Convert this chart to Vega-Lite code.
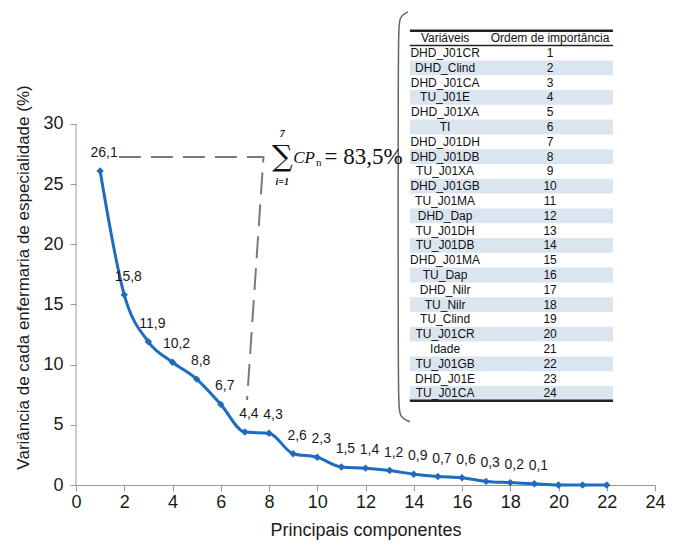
{
  "$schema": "https://vega.github.io/schema/vega-lite/v6.json",
  "width": 579,
  "height": 475,
  "autosize": {"type": "none"},
  "padding": {"left": 76, "top": 10, "right": 25, "bottom": 60},
  "config": {
    "view": {"stroke": null},
    "font": "Liberation Sans",
    "axisX": {"labelOverlap": false, "labelFlush": false, "labelSeparation": -12},
    "locale": {"number": {"decimal": ",", "thousands": ".", "grouping": [3], "currency": ["", ""]}}
  },
  "datasets": {
    "pcs": [
      {"pc": 1, "var": 26.1}, {"pc": 2, "var": 15.8}, {"pc": 3, "var": 11.9}, {"pc": 4, "var": 10.2},
      {"pc": 5, "var": 8.8}, {"pc": 6, "var": 6.7}, {"pc": 7, "var": 4.4}, {"pc": 8, "var": 4.3},
      {"pc": 9, "var": 2.6}, {"pc": 10, "var": 2.3}, {"pc": 11, "var": 1.5}, {"pc": 12, "var": 1.4},
      {"pc": 13, "var": 1.2}, {"pc": 14, "var": 0.9}, {"pc": 15, "var": 0.7}, {"pc": 16, "var": 0.6},
      {"pc": 17, "var": 0.3}, {"pc": 18, "var": 0.2}, {"pc": 19, "var": 0.1}, {"pc": 20, "var": 0.0},
      {"pc": 21, "var": 0.0}, {"pc": 22, "var": 0.0}
    ],
    "tabela": [
      {"ordem": 1, "var": "DHD_J01CR"}, {"ordem": 2, "var": "DHD_Clind"}, {"ordem": 3, "var": "DHD_J01CA"},
      {"ordem": 4, "var": "TU_J01E"}, {"ordem": 5, "var": "DHD_J01XA"}, {"ordem": 6, "var": "TI"},
      {"ordem": 7, "var": "DHD_J01DH"}, {"ordem": 8, "var": "DHD_J01DB"}, {"ordem": 9, "var": "TU_J01XA"},
      {"ordem": 10, "var": "DHD_J01GB"}, {"ordem": 11, "var": "TU_J01MA"}, {"ordem": 12, "var": "DHD_Dap"},
      {"ordem": 13, "var": "TU_J01DH"}, {"ordem": 14, "var": "TU_J01DB"}, {"ordem": 15, "var": "DHD_J01MA"},
      {"ordem": 16, "var": "TU_Dap"}, {"ordem": 17, "var": "DHD_Nilr"}, {"ordem": 18, "var": "TU_Nilr"},
      {"ordem": 19, "var": "TU_Clind"}, {"ordem": 20, "var": "TU_J01CR"}, {"ordem": 21, "var": "Idade"},
      {"ordem": 22, "var": "TU_J01GB"}, {"ordem": 23, "var": "DHD_J01E"}, {"ordem": 24, "var": "TU_J01CA"}
    ],
    "guia": [
      {"i": 1, "x": 1.78, "y": 27.26},
      {"i": 2, "x": 7.77, "y": 27.26},
      {"i": 3, "x": 7.09, "y": 7.06}
    ],
    "chave": [
      {"i": 1, "x": 13.76, "y": 39.31},
      {"i": 2, "x": 13.40, "y": 38.95},
      {"i": 3, "x": 13.35, "y": 37.6},
      {"i": 4, "x": 13.35, "y": 7.0},
      {"i": 5, "x": 13.40, "y": 5.6},
      {"i": 6, "x": 13.84, "y": 5.26}
    ]
  },
  "layer": [
    {
      "layer": [
        {
          "data": {"name": "pcs"},
          "mark": {"type": "line", "color": "#1d6cc0", "strokeWidth": 3, "interpolate": "monotone"},
          "encoding": {
            "x": {
              "field": "pc", "type": "quantitative",
              "scale": {"domain": [0, 24], "nice": false, "zero": false},
              "axis": {
                "values": [0,1,2,3,4,5,6,7,8,9,10,11,12,13,14,15,16,17,18,19,20,21,22,23,24],
                "title": "Principais componentes",
                "labelFontSize": 18, "titleFontSize": 18, "titleFontWeight": "normal",
                "labelColor": "#1a1a1a", "titleColor": "#1a1a1a",
                "domainColor": "#9a9a9a", "tickColor": "#9a9a9a", "tickSize": 6,
                "labelPadding": 2, "titlePadding": 10, "labelFlush": false, "labelOverlap": false,
                "labelSeparation": -12, "labelBound": false, "grid": false
              }
            },
            "y": {
              "field": "var", "type": "quantitative",
              "scale": {"domain": [0, 39.47], "nice": false},
              "axis": {
                "values": [0, 5, 10, 15, 20, 25, 30],
                "title": "Variância de cada enfermaria de especialidade (%)",
                "labelFontSize": 18, "titleFontSize": 17, "titleFontWeight": "normal",
                "labelColor": "#1a1a1a", "titleColor": "#1a1a1a",
                "domain": false, "tickColor": "#9a9a9a", "tickSize": 6,
                "labelPadding": 7, "titlePadding": 10, "grid": false, "titleY": 267
              }
            }
          }
        },
        {
          "data": {"name": "pcs"},
          "mark": {"type": "point", "shape": "diamond", "filled": true, "size": 55, "color": "#1d6cc0", "opacity": 1},
          "encoding": {
            "x": {"field": "pc", "type": "quantitative"},
            "y": {"field": "var", "type": "quantitative"}
          }
        },
        {
          "data": {"name": "pcs"},
          "transform": [{"filter": "datum.pc <= 19"}],
          "mark": {"type": "text", "fontSize": 14, "dy": -18, "dx": 4, "color": "#1a1a1a", "baseline": "middle"},
          "encoding": {
            "x": {"field": "pc", "type": "quantitative"},
            "y": {"field": "var", "type": "quantitative"},
            "text": {"field": "var", "type": "quantitative", "format": ".1f"}
          }
        },
        {
          "data": {"name": "guia"},
          "mark": {"type": "line", "color": "#7a7a7a", "strokeWidth": 2, "strokeDash": [22, 10]},
          "encoding": {
            "x": {"field": "x", "type": "quantitative"},
            "y": {"field": "y", "type": "quantitative"},
            "order": {"field": "i"}
          }
        },
        {
          "data": {"name": "chave"},
          "mark": {"type": "line", "color": "#666666", "strokeWidth": 1.5, "interpolate": "basis"},
          "encoding": {
            "x": {"field": "x", "type": "quantitative"},
            "y": {"field": "y", "type": "quantitative"},
            "order": {"field": "i"}
          }
        }
      ]
    },
    {
      "layer": [
        {
          "data": {"values": [{}]},
          "mark": {"type": "rule", "color": "#9a9a9a", "strokeWidth": 1},
          "encoding": {
            "x": {"datum": 0, "type": "quantitative", "scale": {"domain": [0, 24], "nice": false, "zero": false}, "axis": null},
            "y": {"datum": 0, "type": "quantitative", "scale": {"domain": [0, 39.47], "nice": false}, "axis": null},
            "y2": {"datum": 30}
          }
        },
        {
          "data": {"values": [{}]},
          "mark": {"type": "text", "text": "∑", "font": "DejaVu Serif", "fontSize": 29, "align": "center", "baseline": "middle", "color": "#111111"},
          "encoding": {"x": {"datum": 8.55, "type": "quantitative"}, "y": {"datum": 27.26, "type": "quantitative"}}
        },
        {
          "data": {"values": [{}]},
          "mark": {"type": "text", "text": "7", "font": "Liberation Serif", "fontStyle": "italic", "fontWeight": "bold", "fontSize": 10, "align": "center", "baseline": "middle", "color": "#111111"},
          "encoding": {"x": {"datum": 8.55, "type": "quantitative"}, "y": {"datum": 29.15, "type": "quantitative"}}
        },
        {
          "data": {"values": [{}]},
          "mark": {"type": "text", "text": "i=1", "font": "Liberation Serif", "fontStyle": "italic", "fontWeight": "bold", "fontSize": 10, "align": "center", "baseline": "middle", "color": "#111111"},
          "encoding": {"x": {"datum": 8.55, "type": "quantitative"}, "y": {"datum": 25.15, "type": "quantitative"}}
        },
        {
          "data": {"values": [{}]},
          "mark": {"type": "text", "text": "CP", "font": "Liberation Serif", "fontStyle": "italic", "fontSize": 17, "align": "left", "baseline": "middle", "color": "#111111"},
          "encoding": {"x": {"datum": 9.0, "type": "quantitative"}, "y": {"datum": 27.2, "type": "quantitative"}}
        },
        {
          "data": {"values": [{}]},
          "mark": {"type": "text", "text": "n", "font": "Liberation Serif", "fontSize": 11, "align": "left", "baseline": "middle", "color": "#111111"},
          "encoding": {"x": {"datum": 9.95, "type": "quantitative"}, "y": {"datum": 26.75, "type": "quantitative"}}
        },
        {
          "data": {"values": [{}]},
          "mark": {"type": "text", "text": "= 83,5%", "font": "Liberation Serif", "fontSize": 23, "align": "left", "baseline": "middle", "color": "#111111"},
          "encoding": {"x": {"datum": 10.3, "type": "quantitative"}, "y": {"datum": 27.26, "type": "quantitative"}}
        }
      ]
    },
    {
      "layer": [
        {
          "data": {"name": "tabela"},
          "transform": [{"filter": "datum.ordem % 2 == 0"}],
          "mark": {"type": "bar", "color": "#dbe5f0"},
          "encoding": {
            "y": {
              "field": "ordem", "type": "ordinal",
              "scale": {"domain": [-1,0,1,2,3,4,5,6,7,8,9,10,11,12,13,14,15,16,17,18,19,20,21,22,23,24,25,26,27,28,29], "paddingInner": 0, "paddingOuter": 0.5475, "align": 0.37},
              "axis": null
            },
            "x": {"datum": 13.84, "type": "quantitative", "scale": {"domain": [0, 24], "nice": false, "zero": false}, "axis": null},
            "x2": {"datum": 22.26}
          }
        },
        {
          "data": {"name": "tabela"},
          "mark": {"type": "text", "fontSize": 12, "color": "#111111", "align": "center", "baseline": "middle"},
          "encoding": {
            "y": {"field": "ordem", "type": "ordinal"},
            "x": {"datum": 15.30, "type": "quantitative"},
            "text": {"field": "var"}
          }
        },
        {
          "data": {"name": "tabela"},
          "mark": {"type": "text", "fontSize": 12, "color": "#111111", "align": "center", "baseline": "middle"},
          "encoding": {
            "y": {"field": "ordem", "type": "ordinal"},
            "x": {"datum": 19.65, "type": "quantitative"},
            "text": {"field": "ordem", "type": "ordinal"}
          }
        },
        {
          "data": {"values": [{}]},
          "mark": {"type": "text", "text": "Variáveis", "fontSize": 12, "color": "#111111", "align": "center", "baseline": "middle"},
          "encoding": {"y": {"datum": 0, "type": "ordinal"}, "x": {"datum": 15.30, "type": "quantitative"}}
        },
        {
          "data": {"values": [{}]},
          "mark": {"type": "text", "text": "Ordem de importância", "fontSize": 12, "color": "#111111", "align": "center", "baseline": "middle"},
          "encoding": {"y": {"datum": 0, "type": "ordinal"}, "x": {"datum": 19.65, "type": "quantitative"}}
        },
        {
          "data": {"values": [{}]},
          "mark": {"type": "rule", "color": "#222222", "strokeWidth": 2.5},
          "encoding": {"y": {"datum": 0, "type": "ordinal", "bandPosition": 0}, "x": {"datum": 13.84, "type": "quantitative"}, "x2": {"datum": 22.26}}
        },
        {
          "data": {"values": [{}]},
          "mark": {"type": "rule", "color": "#222222", "strokeWidth": 1.5},
          "encoding": {"y": {"datum": 1, "type": "ordinal", "bandPosition": 0}, "x": {"datum": 13.84, "type": "quantitative"}, "x2": {"datum": 22.26}}
        },
        {
          "data": {"values": [{}]},
          "mark": {"type": "rule", "color": "#222222", "strokeWidth": 2.5},
          "encoding": {"y": {"datum": 24, "type": "ordinal", "bandPosition": 1}, "x": {"datum": 13.84, "type": "quantitative"}, "x2": {"datum": 22.26}}
        }
      ]
    }
  ],
  "resolve": {"scale": {"x": "independent", "y": "independent"}}
}
